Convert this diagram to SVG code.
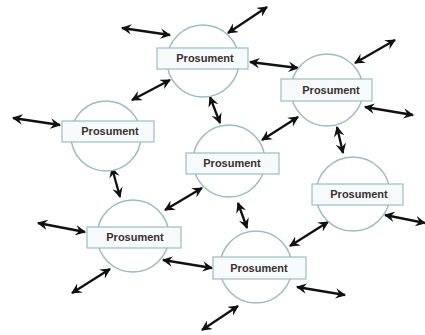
<svg xmlns="http://www.w3.org/2000/svg" width="425" height="335" viewBox="0 0 425 335">
  <style>
    .ring { fill: #ffffff; stroke: #9bbcc5; stroke-width: 1.5; }
    .tag { fill: #f6fafb; stroke: #9cbcc5; stroke-width: 1.2; }
    .label { font-family: "Liberation Sans", Arial, sans-serif; font-size: 11px; font-weight: bold; fill: #3a3030; text-anchor: middle; dominant-baseline: central; }
    .link { stroke: #111111; stroke-width: 2.3; fill: none; marker-start: url(#head); marker-end: url(#head); }
  </style>
  <defs>
    <marker id="head" viewBox="0 0 10 10" refX="9" refY="5" markerWidth="4.6" markerHeight="4.6" orient="auto-start-reverse" markerUnits="strokeWidth">
      <path d="M0,0 L10,5 L0,10 L3.5,5 z" fill="#111111"/>
    </marker>
  </defs>

  <rect width="425" height="335" fill="#ffffff"/>

  <!-- double-headed exchange links -->
  <g id="connectors">
    <line class="link" x1="122" y1="28" x2="170" y2="35"/>
    <line class="link" x1="228" y1="33" x2="267" y2="7"/>
    <line class="link" x1="250" y1="62" x2="298" y2="68"/>
    <line class="link" x1="132" y1="100" x2="170" y2="80"/>
    <line class="link" x1="210" y1="97" x2="220" y2="123"/>
    <line class="link" x1="355" y1="63" x2="395" y2="40"/>
    <line class="link" x1="365" y1="107" x2="413" y2="115"/>
    <line class="link" x1="298" y1="117" x2="262" y2="140"/>
    <line class="link" x1="337" y1="127" x2="343" y2="153"/>
    <line class="link" x1="13" y1="118" x2="60" y2="125"/>
    <line class="link" x1="112" y1="168" x2="120" y2="197"/>
    <line class="link" x1="202" y1="188" x2="165" y2="210"/>
    <line class="link" x1="238" y1="203" x2="247" y2="228"/>
    <line class="link" x1="385" y1="215" x2="425" y2="223"/>
    <line class="link" x1="328" y1="222" x2="290" y2="246"/>
    <line class="link" x1="38" y1="223" x2="85" y2="232"/>
    <line class="link" x1="163" y1="260" x2="212" y2="268"/>
    <line class="link" x1="110" y1="269" x2="72" y2="293"/>
    <line class="link" x1="297" y1="287" x2="345" y2="295"/>
    <line class="link" x1="238" y1="306" x2="202" y2="330"/>
  </g>

  <g id="node-top">
    <circle class="ring" cx="203" cy="61" r="36"/>
    <rect class="tag" x="157" y="48" width="91" height="21"/>
    <text class="label" x="205" y="58">Prosument</text>
  </g>

  <g id="node-top-right">
    <circle class="ring" cx="327" cy="90" r="36"/>
    <rect class="tag" x="281" y="79" width="91" height="22"/>
    <text class="label" x="331" y="90">Prosument</text>
  </g>

  <g id="node-left">
    <circle class="ring" cx="106" cy="136" r="35"/>
    <rect class="tag" x="62" y="121" width="92" height="21"/>
    <text class="label" x="110" y="131">Prosument</text>
  </g>

  <g id="node-center">
    <circle class="ring" cx="229" cy="161" r="36"/>
    <rect class="tag" x="186" y="153" width="93" height="21"/>
    <text class="label" x="232" y="163">Prosument</text>
  </g>

  <g id="node-right">
    <circle class="ring" cx="353" cy="194" r="37"/>
    <rect class="tag" x="312" y="184" width="91" height="21"/>
    <text class="label" x="359" y="194">Prosument</text>
  </g>

  <g id="node-bottom-left">
    <circle class="ring" cx="133" cy="236" r="36"/>
    <rect class="tag" x="87" y="227" width="94" height="21"/>
    <text class="label" x="135" y="237">Prosument</text>
  </g>

  <g id="node-bottom">
    <circle class="ring" cx="256" cy="267" r="36"/>
    <rect class="tag" x="213" y="257" width="93" height="22"/>
    <text class="label" x="259" y="268">Prosument</text>
  </g>
</svg>
